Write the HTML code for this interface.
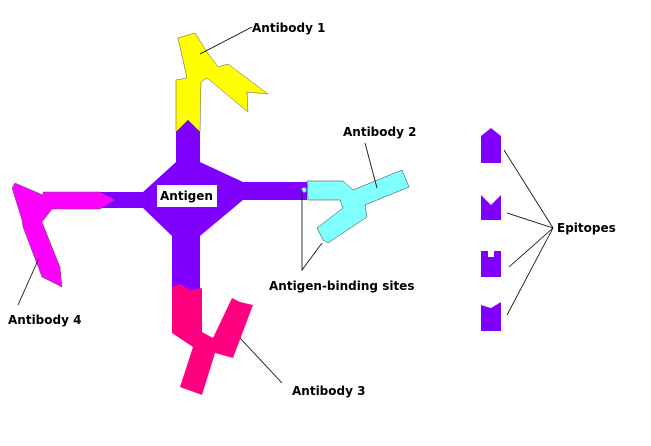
<!DOCTYPE html>
<html><head><meta charset="utf-8"><style>
html,body{margin:0;padding:0;background:#fff;width:651px;height:446px;overflow:hidden}
svg text{font-family:"DejaVu Sans","Liberation Sans",sans-serif;font-weight:bold;font-size:12px;fill:#000}
</style></head><body>
<svg width="651" height="446" viewBox="0 0 651 446" xmlns="http://www.w3.org/2000/svg">
<!-- antigen -->
<polygon fill="#7f00ff" points="176,130 188,120 200,130 200,162 243,182 307,182 307,200 243,200 200,236 200,290 172,290 172,236 143,208 100,208 100,192 143,192 176,162"/>
<!-- yellow -->
<polygon fill="#ffff00" stroke="#555" stroke-width="0.5" points="178,38 195,33 207,52 218,67 228,64 268,94 247,92 248,112 207,78 201,82 200,132 188,120 176,132 176,80 187,78"/>
<!-- magenta -->
<polygon fill="#ff00ff" stroke="#555" stroke-width="0.5" points="12,188 15,183 43,195 43,192 100,192 115,200 100,209 52,209 42,222 60,267 62,287 42,277 23,227 22,220"/>
<!-- cyan -->
<polygon fill="#80ffff" stroke="#333" stroke-width="0.5" points="307,181 343,181 353,190 402,170 409,187 365,205 367,217 328,243 323,240 317,228 343,208 340,200 308,200"/>
<circle cx="304" cy="190" r="2.5" fill="#80ffff"/>
<!-- pink -->
<polygon fill="#ff0080" points="172,287 180,284 190,290 202,288 202,332 213,338 232,298 240,302 253,305 233,358 215,353 202,395 180,387 193,347 172,333"/>
<!-- antigen label -->
<rect x="157" y="185" width="60" height="22" fill="#fff"/>
<text x="160" y="200">Antigen</text>
<!-- lines -->
<g stroke="#000" stroke-width="0.8" fill="none">
<line x1="252" y1="27" x2="200" y2="54"/>
<line x1="365" y1="143" x2="377" y2="188"/>
<line x1="282" y1="383" x2="240" y2="338"/>
<line x1="18" y1="305" x2="39" y2="258"/>
<polyline points="302,190 302,270 322,243"/>
<line x1="553" y1="228" x2="504" y2="150"/>
<line x1="553" y1="228" x2="507" y2="213"/>
<line x1="553" y1="228" x2="509" y2="267"/>
<line x1="553" y1="228" x2="507" y2="315"/>
</g>
<!-- epitopes -->
<g fill="#7f00ff">
<polygon points="481,136 491,128 501,136 501,163 481,163"/>
<polygon points="481,195 491,205 501,195 501,220 481,220"/>
<polygon points="481,251 488,251 488,257 494,257 494,251 501,251 501,277 481,277"/>
<polygon points="481,305 491,308 501,302 501,331 481,331"/>
</g>
<text x="252" y="32">Antibody 1</text>
<text x="343" y="136">Antibody 2</text>
<text x="292" y="395">Antibody 3</text>
<text x="8" y="324">Antibody 4</text>
<text x="269" y="290">Antigen-binding sites</text>
<text x="557" y="232">Epitopes</text>
</svg>
</body></html>
